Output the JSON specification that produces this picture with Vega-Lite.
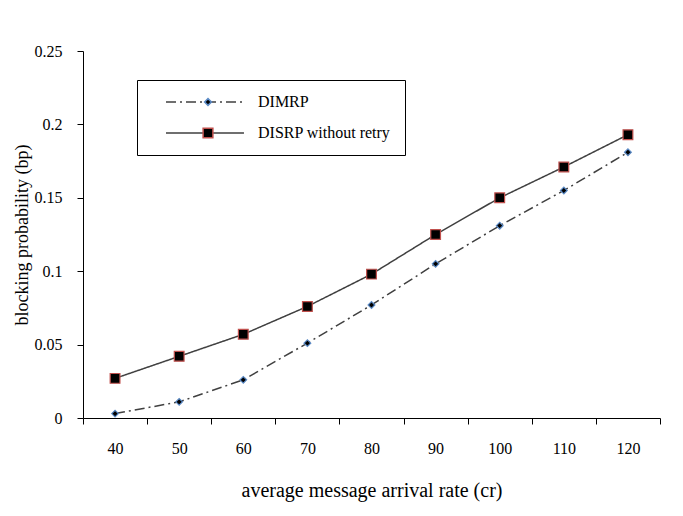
{
  "$schema": "https://vega.github.io/schema/vega-lite/v6.json",
  "width": 577,
  "height": 367,
  "autosize": {"type": "none"},
  "padding": {"left": 83, "top": 51, "right": 23, "bottom": 98},
  "background": "white",
  "config": {
    "font": "Liberation Serif",
    "view": {"stroke": null},
    "axis": {"labelFont": "Liberation Serif", "titleFont": "Liberation Serif", "labelColor": "black", "titleColor": "black", "domainColor": "black", "tickColor": "black", "labelFontSize": 16, "titleFontSize": 16, "titleFontWeight": "normal", "grid": false},
    "legend": {"labelFont": "Liberation Serif", "labelFontSize": 16, "labelColor": "black"}
  },
  "data": {"values": [
    {"rate": 40, "bp": 0.003, "series": "DIMRP"},
    {"rate": 50, "bp": 0.011, "series": "DIMRP"},
    {"rate": 60, "bp": 0.026, "series": "DIMRP"},
    {"rate": 70, "bp": 0.051, "series": "DIMRP"},
    {"rate": 80, "bp": 0.077, "series": "DIMRP"},
    {"rate": 90, "bp": 0.105, "series": "DIMRP"},
    {"rate": 100, "bp": 0.131, "series": "DIMRP"},
    {"rate": 110, "bp": 0.155, "series": "DIMRP"},
    {"rate": 120, "bp": 0.181, "series": "DIMRP"},
    {"rate": 40, "bp": 0.027, "series": "DISRP without retry"},
    {"rate": 50, "bp": 0.042, "series": "DISRP without retry"},
    {"rate": 60, "bp": 0.057, "series": "DISRP without retry"},
    {"rate": 70, "bp": 0.076, "series": "DISRP without retry"},
    {"rate": 80, "bp": 0.098, "series": "DISRP without retry"},
    {"rate": 90, "bp": 0.125, "series": "DISRP without retry"},
    {"rate": 100, "bp": 0.150, "series": "DISRP without retry"},
    {"rate": 110, "bp": 0.171, "series": "DISRP without retry"},
    {"rate": 120, "bp": 0.193, "series": "DISRP without retry"}
  ]},
  "encoding": {
    "x": {"field": "rate", "type": "ordinal", "sort": "ascending",
      "scale": {"type": "band", "paddingInner": 0, "paddingOuter": 0},
      "axis": {"title": "average message arrival rate (cr)", "titleFontSize": 20, "labelAngle": 0, "tickBand": "extent", "tickSize": 6, "labelPadding": 16, "titlePadding": 24}},
    "y": {"field": "bp", "type": "quantitative",
      "scale": {"domain": [0, 0.25], "nice": false},
      "axis": {"title": "blocking probability (bp)", "titleFontSize": 18, "values": [0, 0.05, 0.1, 0.15, 0.2, 0.25], "format": ".2~f", "tickSize": 6, "labelPadding": 15, "titlePadding": 3}}
  },
  "layer": [
    {
      "mark": {"type": "line", "color": "#404040", "strokeWidth": 1.5},
      "encoding": {
        "strokeDash": {"field": "series", "type": "nominal",
          "scale": {"domain": ["DIMRP", "DISRP without retry"], "range": [[10, 4, 2, 4], [1, 0]]},
          "legend": {"title": null, "orient": "none", "legendX": 54, "legendY": 29, "padding": 14,
            "strokeColor": "black", "fillColor": "white",
            "symbolType": "M1,0H12.14", "symbolSize": 196, "symbolStrokeColor": "#404040", "symbolStrokeWidth": 1.5,
            "labelOffset": 91, "rowPadding": 15}}
      }
    },
    {
      "mark": {"type": "point", "filled": true, "opacity": 1, "strokeWidth": 1.2},
      "encoding": {
        "shape": {"field": "series", "type": "nominal", "scale": {"range": ["diamond", "square"]},
          "legend": {"title": null, "orient": "none", "legendX": 117, "legendY": 43, "padding": 0, "labelExpr": "''", "rowPadding": 15}},
        "fill": {"field": "series", "type": "nominal", "scale": {"range": ["#000000", "#000000"]}},
        "stroke": {"field": "series", "type": "nominal", "scale": {"range": ["#5a8ac6", "#c0504d"]}},
        "size": {"field": "series", "type": "nominal", "scale": {"range": [45, 95]}}
      }
    }
  ]
}
